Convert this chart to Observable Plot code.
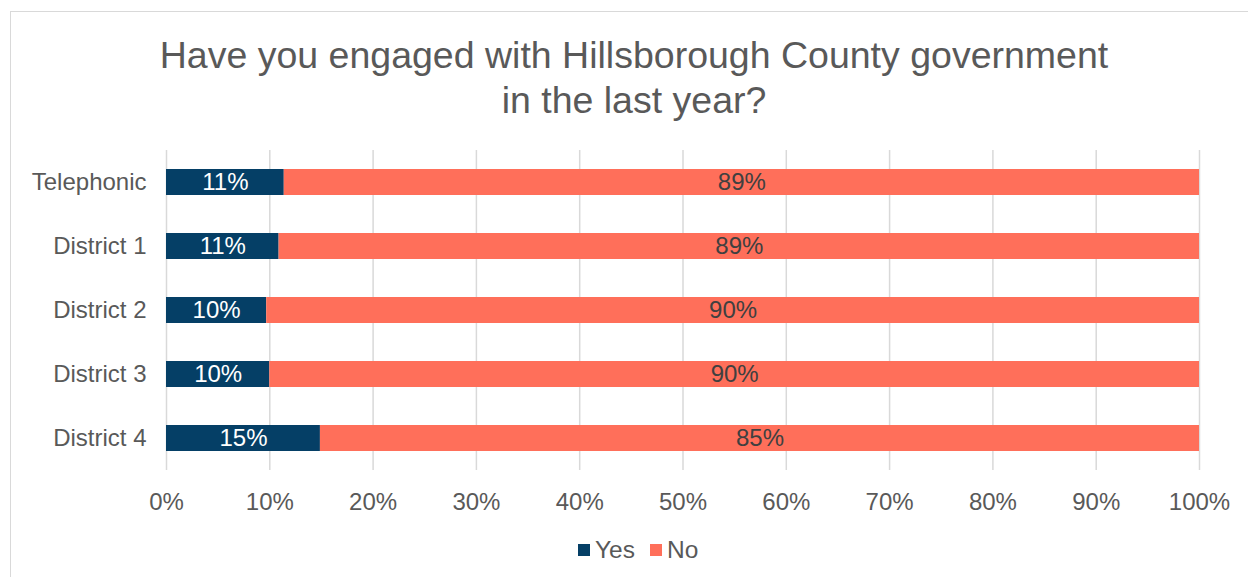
<!DOCTYPE html>
<html>
<head>
<meta charset="utf-8">
<script src="https://cdn.jsdelivr.net/npm/d3@7"></script>
<script src="https://cdn.jsdelivr.net/npm/@observablehq/plot@0.6"></script>
<style>
  html, body { margin: 0; padding: 0; background: #fff; }
  #wrap { position: relative; width: 1248px; height: 577px; overflow: hidden; font-family: "Liberation Sans", Arial, sans-serif; }
  #frame { position: absolute; left: 10px; top: 11px; width: 1300px; height: 700px; border-left: 1.5px solid #D9D9D9; border-top: 1.5px solid #D9D9D9; }
  #title { position: absolute; top: 33px; left: 0; width: 1268px; text-align: center; font-size: 37.5px; line-height: 45px; color: #595959; }
  #chart { position: absolute; top: 140px; left: 0; }
  #legend { position: absolute; top: 537px; left: 0; width: 1248px; height: 26px; }
  .li { position: absolute; top: 0; font-size: 24.5px; line-height: 26px; color: #595959; }
  .sw { position: absolute; top: 7px; width: 12px; height: 12px; }
</style>
</head>
<body>
<div id="wrap">
  <div id="frame"></div>
  <div id="title">Have you engaged with Hillsborough County government<br>in the last year?</div>
  <div id="chart"></div>
  <div id="legend"></div>
</div>
<script>
const categories = ["Telephonic", "District 1", "District 2", "District 3", "District 4"];
const yesValues = [11.4, 10.9, 9.7, 10.0, 14.9];
const noValues = [88.6, 89.1, 90.3, 90.0, 85.1];
const responses = ["Yes", "No"];
const colors = ["#053F66", "#FF6F5A"];
const xTicks = [0, 10, 20, 30, 40, 50, 60, 70, 80, 90, 100];

const rows = [];
categories.forEach((c, i) => {
  rows.push({cat: c, response: "Yes", value: yesValues[i], mid: yesValues[i] / 2});
  rows.push({cat: c, response: "No", value: noValues[i], mid: yesValues[i] + noValues[i] / 2});
});
const yesRows = rows.filter(d => d.response === "Yes");
const noRows = rows.filter(d => d.response === "No");

const chart = Plot.plot({
  width: 1248,
  height: 400,
  marginLeft: 166,
  marginRight: 49,
  marginTop: 10,
  marginBottom: 70,
  style: {fontFamily: "Liberation Sans, Arial, sans-serif", fontSize: "24px", color: "#595959", background: "transparent"},
  x: {domain: [0, 100], ticks: xTicks, tickFormat: d => d + "%", tickSize: 0, tickPadding: 22, label: null},
  y: {domain: categories, paddingInner: 0.6, paddingOuter: 0.3, tickSize: 0, tickPadding: 20, label: null},
  color: {domain: responses, range: colors},
  marks: [
    Plot.gridX(xTicks, {stroke: "#D9D9D9", strokeOpacity: 1, strokeWidth: 1.5}),
    Plot.barX(rows, Plot.stackX({x: "value", y: "cat", z: "response", fill: "response", order: null})),
    Plot.text(yesRows, {x: "mid", y: "cat", text: d => Math.round(d.value) + "%", fill: "white", fontSize: 24}),
    Plot.text(noRows, {x: "mid", y: "cat", text: d => Math.round(d.value) + "%", fill: "#404040", fontSize: 24})
  ]
});
document.getElementById("chart").appendChild(chart);

const legend = document.getElementById("legend");
const legendX = [578, 650];
responses.forEach((r, i) => {
  const sw = document.createElement("div");
  sw.className = "sw";
  sw.style.left = legendX[i] + "px";
  sw.style.background = colors[i];
  legend.appendChild(sw);
  const t = document.createElement("div");
  t.className = "li";
  t.style.left = (legendX[i] + 17) + "px";
  t.textContent = r;
  legend.appendChild(t);
});
</script>
</body>
</html>
